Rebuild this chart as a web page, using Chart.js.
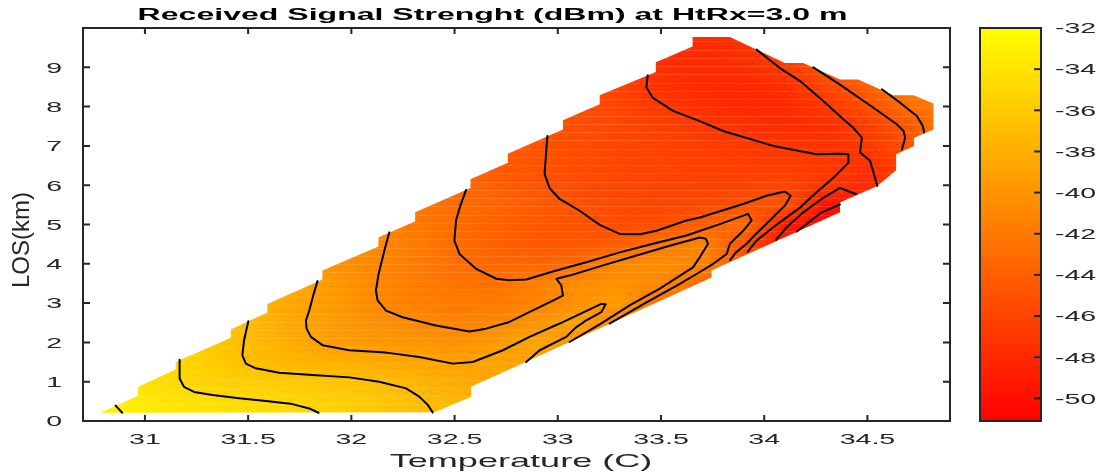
<!DOCTYPE html>
<html>
<head>
<meta charset="utf-8">
<script src="https://cdn.jsdelivr.net/npm/chart.js@4.4.1/dist/chart.umd.min.js"></script>
<style>
  html, body { margin: 0; padding: 0; background: #ffffff; }
  #c { display: block; }
</style>
</head>
<body>
<canvas id="c" width="1099" height="476"></canvas>
<script>
// ---------------- text ----------------
const TITLE_TEXT = 'Received Signal Strenght (dBm) at HtRx=3.0 m';
const X_TITLE = 'Temperature (C)';
const Y_TITLE = 'LOS(km)';

// ---------------- axes / ticks ----------------
const X_MIN = 30.7, X_MAX = 34.9;
const Y_MIN = 0, Y_MAX = 10;
const X_TICKS = [31, 31.5, 32, 32.5, 33, 33.5, 34, 34.5];
const X_TICK_LABELS = ['31', '31.5', '32', '32.5', '33', '33.5', '34', '34.5'];
const Y_TICKS = [0, 1, 2, 3, 4, 5, 6, 7, 8, 9];
const Y_TICK_LABELS = ['0', '1', '2', '3', '4', '5', '6', '7', '8', '9'];
const CB_MIN = -51.1, CB_MAX = -32;
const CB_TICKS = [-32, -34, -36, -38, -40, -42, -44, -46, -48, -50];
const CB_TICK_LABELS = ['-32', '-34', '-36', '-38', '-40', '-42', '-44', '-46', '-48', '-50'];

// ---------------- field grid (dBm) ----------------
const GRID_TEMP = [30.7, 30.9, 31.1, 31.3, 31.5, 31.7, 31.9, 32.1, 32.3, 32.5, 32.7,
                   32.9, 33.1, 33.3, 33.5, 33.7, 33.9, 34.1, 34.3, 34.5, 34.7, 34.9];
const GRID_LOS = [0, 0.5, 1, 1.5, 2, 2.5, 3, 3.5, 4, 4.5, 5, 5.5, 6, 6.5, 7, 7.5, 8, 8.5, 9, 9.5, 10];
const N = null;
const RSS_GRID = [
  [-32.2,-33.0,-33.4,-33.8,-34.2,-34.6,-35.2,-35.9,-36.6,-37.4,N,N,N,N,N,N,N,N,N,N,N,N],
  [-32.9,-33.4,-33.9,-34.4,-34.8,-35.1,-35.6,-36.1,-36.8,-37.5,-38.4,N,N,N,N,N,N,N,N,N,N,N],
  [-33.6,-34.0,-34.7,-35.4,-35.7,-36.0,-36.4,-36.9,-37.5,-38.3,-38.9,N,N,N,N,N,N,N,N,N,N,N],
  [N,-34.0,-34.5,-35.8,-37.0,-37.5,-37.9,-38.3,-38.7,-39.0,-38.8,-39.3,N,N,N,N,N,N,N,N,N,N],
  [N,N,-34.8,-36.1,-37.0,-38.3,-39.3,-39.7,-39.9,-40.4,-39.6,-38.6,-40.2,N,N,N,N,N,N,N,N,N],
  [N,N,N,-36.2,-37.0,-38.6,-39.4,-40.3,-40.9,-41.4,-41.1,-40.0,-38.8,-41.5,N,N,N,N,N,N,N,N],
  [N,N,N,N,-37.3,-38.6,-39.5,-40.8,-41.6,-42.0,-42.0,-41.3,-40.3,-39.6,-43.0,N,N,N,N,N,N,N],
  [N,N,N,N,N,-38.4,-39.6,-40.9,-41.8,-42.5,-42.8,-41.7,-40.6,-40.3,-40.9,-43.5,N,N,N,N,N,N],
  [N,N,N,N,N,N,-40.2,-40.9,-41.8,-42.8,-43.4,-43.5,-43.0,-40.9,-40.4,-41.2,-44.5,N,N,N,N,N],
  [N,N,N,N,N,N,-40.2,-40.7,-41.8,-43.0,-43.9,-44.5,-44.6,-44.3,-42.3,-41.0,-45.0,-50.0,N,N,N,N],
  [N,N,N,N,N,N,N,-41.2,-42.0,-43.0,-43.8,-44.5,-44.9,-45.4,-45.3,-44.0,-42.6,-48.8,-51.0,N,N,N],
  [N,N,N,N,N,N,N,N,-42.0,-42.9,-43.6,-44.3,-45.1,-45.6,-45.8,-45.6,-45.0,-44.6,-49.8,-49.5,N,N],
  [N,N,N,N,N,N,N,N,-42.4,-43.2,-44.0,-44.8,-45.5,-45.9,-46.1,-46.2,-46.2,-46.0,-47.0,-47.8,-45.8,N],
  [N,N,N,N,N,N,N,N,N,-43.5,-44.3,-44.9,-45.4,-45.8,-46.1,-46.3,-46.5,-46.6,-46.8,-47.5,-46.3,N],
  [N,N,N,N,N,N,N,N,N,N,-44.2,-44.8,-45.4,-45.9,-46.2,-46.5,-46.8,-47.1,-47.4,-46.8,-45.0,-42.5],
  [N,N,N,N,N,N,N,N,N,N,N,-44.7,-45.3,-45.8,-46.3,-46.9,-47.6,-47.9,-47.6,-46.6,-44.6,-41.5],
  [N,N,N,N,N,N,N,N,N,N,N,N,-45.3,-45.9,-46.9,-47.6,-48.1,-48.0,-47.1,-45.2,-42.9,-41.8],
  [N,N,N,N,N,N,N,N,N,N,N,N,-45.5,-46.3,-47.4,-47.9,-48.2,-47.6,-45.9,-43.8,-42.0,N],
  [N,N,N,N,N,N,N,N,N,N,N,N,N,-46.5,-47.6,-48.0,-47.8,-46.8,-45.0,-43.5,N,N],
  [N,N,N,N,N,N,N,N,N,N,N,N,N,N,-47.3,-47.9,-47.5,-46.5,-45.0,N,N,N],
  [N,N,N,N,N,N,N,N,N,N,N,N,N,N,-47.3,-47.9,-47.5,-46.5,N,N,N,N]
];

// outline of the measured (Temperature, LOS) domain
const DOMAIN = [
  [30.785,0.21],[30.967,0.64],[30.967,0.87],[31.149,1.31],[31.149,1.50],[31.416,2.12],[31.416,2.33],
  [31.593,2.76],[31.593,2.98],[31.860,3.60],[31.860,3.83],[32.131,4.44],[32.131,4.67],[32.309,5.08],
  [32.309,5.31],[32.577,5.93],[32.577,6.15],[32.758,6.57],[32.758,6.80],[33.025,7.42],[33.025,7.65],
  [33.203,8.06],[33.203,8.29],[33.475,8.88],[33.475,9.13],[33.653,9.53],[33.653,9.77],[33.834,9.77],
  [34.100,9.11],[34.189,9.11],[34.367,8.69],[34.455,8.69],[34.626,8.29],[34.723,8.29],[34.820,8.08],
  [34.820,7.42],[34.726,7.21],[34.726,7.00],[34.639,6.79],[34.639,6.38],[34.548,5.98],[34.367,5.56],
  [34.367,5.31],[33.745,3.83],[33.745,3.65],[32.580,0.87],[32.580,0.62],[32.402,0.22]
];

// ---------------- contour lines (Temperature, LOS) ----------------
const CONTOUR_M33 = [[30.858,0.39],[30.890,0.21]];
const CONTOUR_M35 = [[31.168,1.56],[31.168,1.08],[31.189,0.87],[31.238,0.74],[31.327,0.66],[31.456,0.58],
  [31.586,0.51],[31.715,0.43],[31.796,0.32],[31.841,0.21]];
const CONTOUR_M37 = [[31.501,2.54],[31.480,2.05],[31.472,1.67],[31.489,1.46],[31.537,1.34],[31.650,1.23],
  [31.812,1.17],[31.990,1.11],[32.135,1.00],[32.265,0.83],[32.329,0.62],[32.370,0.41],[32.394,0.22]];
const CONTOUR_M39 = [[31.836,3.56],[31.815,3.19],[31.796,2.81],[31.780,2.56],[31.783,2.35],[31.804,2.14],
  [31.860,1.93],[31.990,1.80],[32.168,1.74],[32.329,1.63],[32.491,1.46],[32.588,1.50],[32.734,1.80],
  [32.863,2.14],[33.009,2.48],[33.211,2.98],[33.232,2.97],[33.211,2.77],[33.138,2.56],[33.090,2.39],
  [33.041,2.14],[32.976,1.97],[32.912,1.80],[32.847,1.50]];
const CONTOUR_M41 = [[32.184,4.80],[32.160,4.34],[32.132,3.74],[32.119,3.32],[32.127,3.07],[32.168,2.81],
  [32.248,2.64],[32.410,2.43],[32.572,2.28],[32.653,2.35],[32.766,2.52],[32.847,2.73],[32.944,2.98],
  [33.025,3.19],[33.017,3.45],[32.993,3.62],[33.057,3.70],[33.219,3.96],[33.381,4.21],[33.542,4.46],
  [33.688,4.67],[33.717,4.64],[33.728,4.51],[33.688,4.17],[33.655,3.91],[33.494,3.37],[33.348,2.94],
  [33.203,2.46],[33.057,2.01]];
const CONTOUR_M43 = [[32.556,5.88],[32.528,5.48],[32.507,5.10],[32.499,4.59],[32.524,4.25],[32.605,3.87],
  [32.702,3.62],[32.766,3.58],[32.847,3.60],[32.993,3.83],[33.138,4.04],[33.300,4.29],[33.461,4.51],
  [33.623,4.72],[33.785,5.01],[33.922,5.27],[33.939,5.10],[33.898,4.84],[33.834,4.51],[33.818,4.25],
  [33.753,4.00],[33.672,3.74],[33.591,3.49],[33.421,2.99],[33.251,2.48]];
const CONTOUR_M45 = [[32.950,7.25],[32.944,6.87],[32.936,6.29],[32.960,5.93],[33.009,5.65],[33.106,5.35],
  [33.203,4.99],[33.300,4.76],[33.397,4.75],[33.478,4.84],[33.623,5.10],[33.688,5.18],[33.898,5.52],
  [34.011,5.73],[34.100,5.84],[34.128,5.73],[34.100,5.48],[34.027,5.10],[33.960,4.76],[33.915,4.51],
  [33.863,4.29],[33.834,4.09]];
const CONTOUR_M47 = [[33.436,8.80],[33.429,8.49],[33.461,8.22],[33.558,7.89],[33.688,7.63],[33.801,7.38],
  [34.044,7.00],[34.254,6.79],[34.367,6.80],[34.408,6.79],[34.408,6.57],[34.335,6.19],[34.251,5.81],
  [34.174,5.43],[34.105,5.17],[34.044,4.93],[33.963,4.59],[33.920,4.31]];
const CONTOUR_M47_EAST = [[33.963,9.45],[34.076,8.98],[34.174,8.65],[34.286,8.14],[34.383,7.68],
  [34.432,7.46],[34.473,7.21],[34.464,6.83],[34.513,6.62],[34.548,5.98]];
const CONTOUR_M45_EAST = [[34.238,9.00],[34.367,8.56],[34.529,7.97],[34.642,7.55],[34.675,7.38],
  [34.683,7.21],[34.667,6.91]];
const CONTOUR_M43_EAST = [[34.570,8.44],[34.658,8.10],[34.739,7.76],[34.768,7.51],[34.775,7.34]];
const CONTOUR_M49 = [[34.446,5.77],[34.367,5.93],[34.278,5.65],[34.189,5.31],[34.109,4.93],[34.057,4.61]];
const CONTOUR_M51 = [[34.367,5.51],[34.278,5.31],[34.205,5.01],[34.158,4.82]];

const CONTOURS = [CONTOUR_M33, CONTOUR_M35, CONTOUR_M37, CONTOUR_M39, CONTOUR_M41, CONTOUR_M43,
  CONTOUR_M45, CONTOUR_M47, CONTOUR_M47_EAST, CONTOUR_M45_EAST, CONTOUR_M43_EAST, CONTOUR_M49, CONTOUR_M51];

// ---------------- helpers ----------------
const FONT_FAMILY = '"Liberation Sans", Arial, Helvetica, sans-serif';
const AXIS_COLOR = '#262626';
const STRETCH = 1.9;

function autumn(v) {
  let t = (v - CB_MIN) / (CB_MAX - CB_MIN);
  t = Math.max(0, Math.min(1, t));
  return [255, Math.round(255 * t), 0];
}

function locate(arr, v) {
  const n = arr.length;
  let i = 0;
  while (i < n - 2 && v > arr[i + 1]) i++;
  let t = (v - arr[i]) / (arr[i + 1] - arr[i]);
  t = Math.max(0, Math.min(1, t));
  return [i, t];
}

function sampleField(ci, ct, rj, ru) {
  const corners = [
    [rj, ci, (1 - ct) * (1 - ru)], [rj, ci + 1, ct * (1 - ru)],
    [rj + 1, ci, (1 - ct) * ru], [rj + 1, ci + 1, ct * ru]
  ];
  let ws = 0, vs = 0;
  for (const [r, c, w] of corners) {
    const v = RSS_GRID[r][c];
    if (v !== null && w > 0) { ws += w; vs += w * v; }
  }
  if (ws < 1e-9) {
    for (const [r, c] of corners) { const v = RSS_GRID[r][c]; if (v !== null) return v; }
    return null;
  }
  return vs / ws;
}

function drawStretched(ctx, text, x, y, font, align, color, sx) {
  ctx.save();
  ctx.font = font;
  ctx.fillStyle = color;
  ctx.textAlign = 'left';
  ctx.textBaseline = 'alphabetic';
  const w = ctx.measureText(text).width * sx;
  const x0 = align === 'center' ? x - w / 2 : (align === 'right' ? x - w : x);
  ctx.translate(x0, y);
  ctx.scale(sx, 1);
  ctx.fillText(text, 0, 0);
  ctx.restore();
}

function domainPath(ctx, xs, ys) {
  ctx.beginPath();
  DOMAIN.forEach((p, i) => {
    const X = xs.getPixelForValue(p[0]), Y = ys.getPixelForValue(p[1]);
    if (i === 0) ctx.moveTo(X, Y); else ctx.lineTo(X, Y);
  });
  ctx.closePath();
}

// ---------------- plugins ----------------
const heatmapPlugin = {
  id: 'heatmap',
  beforeDatasetsDraw(chart) {
    const ctx = chart.ctx, a = chart.chartArea;
    const xs = chart.scales.x, ys = chart.scales.y;
    const w = Math.round(a.right - a.left), h = Math.round(a.bottom - a.top);
    const off = document.createElement('canvas');
    off.width = w; off.height = h;
    const octx = off.getContext('2d');
    const img = octx.createImageData(w, h);
    const colI = [], colT = [], rowJ = [], rowU = [];
    for (let px = 0; px < w; px++) {
      const [i, t] = locate(GRID_TEMP, xs.getValueForPixel(a.left + px + 0.5));
      colI.push(i); colT.push(t);
    }
    for (let py = 0; py < h; py++) {
      const [j, u] = locate(GRID_LOS, ys.getValueForPixel(a.top + py + 0.5));
      rowJ.push(j); rowU.push(u);
    }
    for (let py = 0; py < h; py++) {
      for (let px = 0; px < w; px++) {
        const v = sampleField(colI[px], colT[px], rowJ[py], rowU[py]);
        if (v === null) continue;
        const c = autumn(v);
        const k = (py * w + px) * 4;
        img.data[k] = c[0]; img.data[k + 1] = c[1]; img.data[k + 2] = c[2]; img.data[k + 3] = 255;
      }
    }
    octx.putImageData(img, 0, 0);
    ctx.save();
    domainPath(ctx, xs, ys);
    ctx.clip();
    ctx.drawImage(off, a.left, a.top);
    // faint cell rows of the surface
    ctx.strokeStyle = 'rgba(255,255,255,0.13)';
    ctx.lineWidth = 1;
    for (let k = 1; k < 48; k++) {
      const Y = Math.round(ys.getPixelForValue(0.21 * k)) + 0.5;
      ctx.beginPath(); ctx.moveTo(a.left, Y); ctx.lineTo(a.right, Y); ctx.stroke();
    }
    ctx.restore();
  }
};

const framePlugin = {
  id: 'frame',
  afterDraw(chart) {
    const ctx = chart.ctx, a = chart.chartArea;
    const xs = chart.scales.x, ys = chart.scales.y, cb = chart.scales.cb;
    const tickFont = '15px ' + FONT_FAMILY;
    ctx.save();
    // axes box
    ctx.strokeStyle = AXIS_COLOR;
    ctx.lineWidth = 2;
    ctx.strokeRect(a.left, a.top, a.right - a.left, a.bottom - a.top);
    // ticks
    ctx.lineWidth = 2;
    X_TICKS.forEach((v) => {
      const X = xs.getPixelForValue(v);
      ctx.beginPath();
      ctx.moveTo(X, a.bottom); ctx.lineTo(X, a.bottom - 6);
      ctx.moveTo(X, a.top); ctx.lineTo(X, a.top + 6);
      ctx.stroke();
    });
    Y_TICKS.forEach((v) => {
      const Y = ys.getPixelForValue(v);
      ctx.beginPath();
      ctx.moveTo(a.left, Y); ctx.lineTo(a.left + 7, Y);
      ctx.moveTo(a.right, Y); ctx.lineTo(a.right - 7, Y);
      ctx.stroke();
    });
    // tick labels
    X_TICKS.forEach((v, i) => drawStretched(ctx, X_TICK_LABELS[i], xs.getPixelForValue(v), a.bottom + 23,
      tickFont, 'center', AXIS_COLOR, STRETCH));
    Y_TICKS.forEach((v, i) => drawStretched(ctx, Y_TICK_LABELS[i], a.left - 21, ys.getPixelForValue(v) + 5.3,
      tickFont, 'right', AXIS_COLOR, STRETCH));
    // axis titles
    drawStretched(ctx, X_TITLE, 521, 467, '18.5px ' + FONT_FAMILY, 'center', AXIS_COLOR, 1.95);
    ctx.save();
    ctx.translate(29, 240);
    ctx.rotate(-Math.PI / 2);
    ctx.font = '24px ' + FONT_FAMILY;
    ctx.fillStyle = AXIS_COLOR;
    ctx.textAlign = 'center';
    ctx.textBaseline = 'alphabetic';
    ctx.fillText(Y_TITLE, 0, 0);
    ctx.restore();
    // title
    drawStretched(ctx, TITLE_TEXT, 492.5, 19.5, 'bold 16.8px ' + FONT_FAMILY, 'center', '#000000', 1.91);
    // colour bar
    const cbL = 980, cbR = 1041;
    const cbTop = cb.getPixelForValue(CB_MAX), cbBot = cb.getPixelForValue(CB_MIN);
    const g = ctx.createLinearGradient(0, cbTop, 0, cbBot);
    const cTop = autumn(CB_MAX), cBot = autumn(CB_MIN);
    g.addColorStop(0, 'rgb(' + cTop.join(',') + ')');
    g.addColorStop(1, 'rgb(' + cBot.join(',') + ')');
    ctx.fillStyle = g;
    ctx.fillRect(cbL, cbTop, cbR - cbL, cbBot - cbTop);
    ctx.strokeStyle = AXIS_COLOR;
    ctx.lineWidth = 2;
    ctx.strokeRect(cbL, cbTop, cbR - cbL, cbBot - cbTop);
    CB_TICKS.forEach((v, i) => {
      const Y = cb.getPixelForValue(v);
      ctx.beginPath(); ctx.moveTo(cbR, Y); ctx.lineTo(cbR - 7, Y); ctx.stroke();
      drawStretched(ctx, CB_TICK_LABELS[i], 1055, Y + 5.3, tickFont, 'left', AXIS_COLOR, STRETCH);
    });
    ctx.restore();
  }
};

// ---------------- chart ----------------
new Chart(document.getElementById('c').getContext('2d'), {
  type: 'scatter',
  data: {
    datasets: CONTOURS.map((pts) => ({
      data: pts.map((p) => ({ x: p[0], y: p[1] })),
      showLine: true,
      borderColor: '#000000',
      borderWidth: 2,
      borderJoinStyle: 'round',
      borderCapStyle: 'round',
      pointRadius: 0,
      fill: false,
      tension: 0,
      xAxisID: 'x',
      yAxisID: 'y'
    }))
  },
  options: {
    responsive: false,
    animation: false,
    devicePixelRatio: 1,
    events: [],
    layout: { padding: { left: 83, right: 149, top: 28, bottom: 55 } },
    plugins: { legend: { display: false }, tooltip: { enabled: false }, title: { display: false } },
    scales: {
      x: { type: 'linear', min: X_MIN, max: X_MAX, display: false },
      y: { type: 'linear', min: Y_MIN, max: Y_MAX, display: false },
      cb: { type: 'linear', axis: 'y', position: 'right', min: CB_MIN, max: CB_MAX, display: false }
    }
  },
  plugins: [heatmapPlugin, framePlugin]
});
</script>
</body>
</html>
